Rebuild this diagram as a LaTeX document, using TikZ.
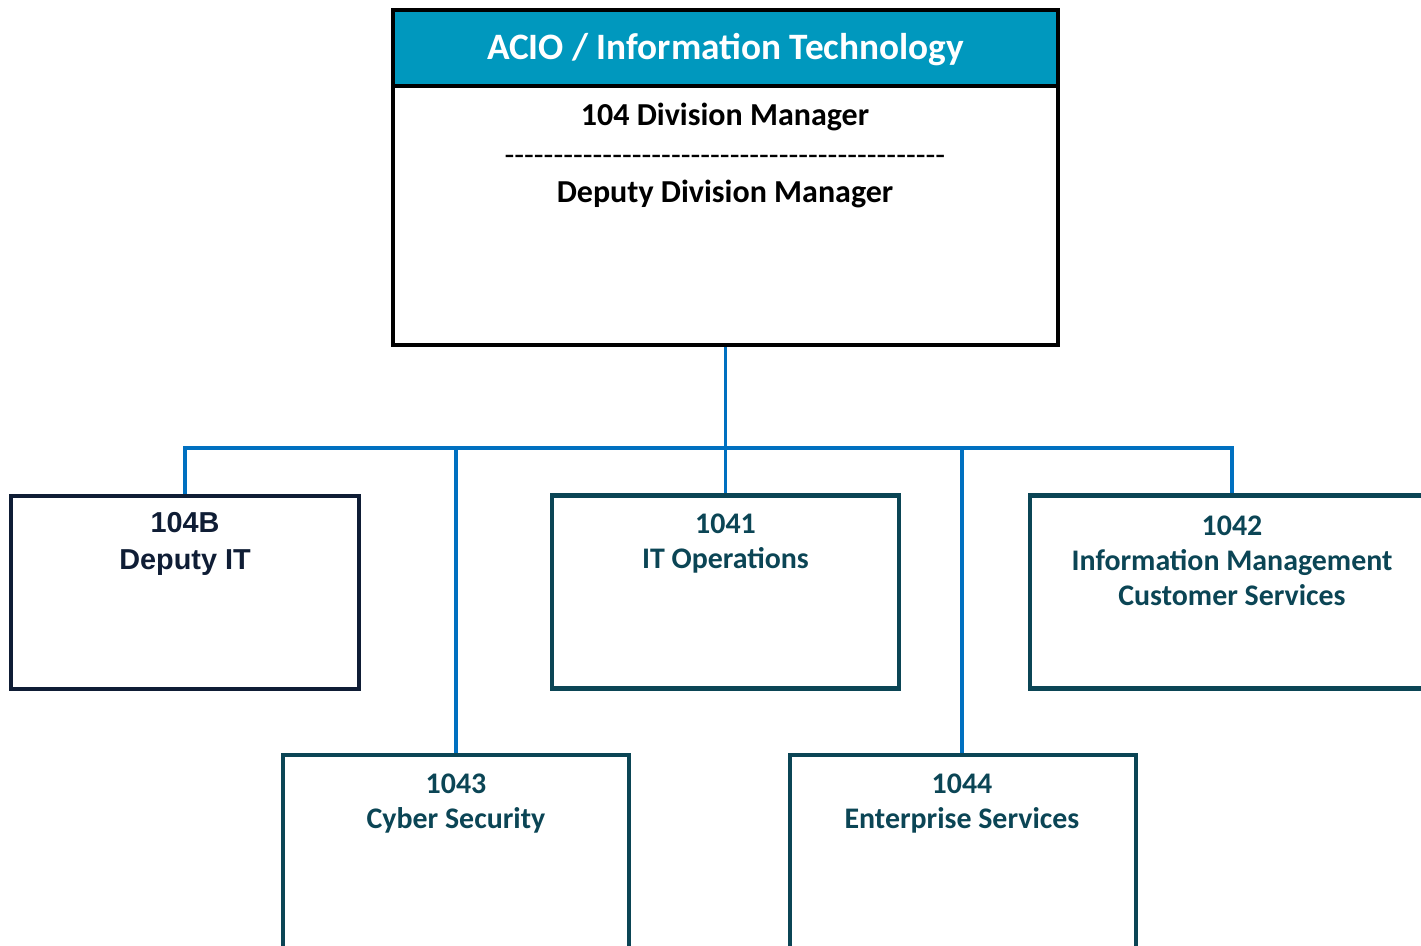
\documentclass[tikz,border=0pt]{standalone}
\usepackage{fontspec}
\setmainfont{Carlito}
\newfontfamily\arialfont{Liberation Sans}
\definecolor{headblue}{HTML}{0098BE}
\definecolor{linkblue}{HTML}{0070C0}
\definecolor{unitteal}{HTML}{0B4555}
\definecolor{deputynavy}{HTML}{0F1D35}

\begin{document}
\begin{tikzpicture}[x=0.01cm,y=-0.01cm,
    topbox/.style={rectangle,draw=black,line width=1.2pt,inner sep=0pt,minimum width=6.65cm},
    unitbox/.style={rectangle,draw=unitteal,line width=1.35pt,inner sep=0pt,minimum height=1.93cm},
    unittext/.style={align=center,text=unitteal,font=\bfseries\fontsize{8.5}{9.95}\selectfont},
    link/.style={draw=linkblue,line width=0.9pt}]
            \useasboundingbox (0,0) rectangle (1421,946);
            \clip (0,0) rectangle (1421,946);

            % top box
            \node[topbox,minimum height=2.59cm] (body) at (725.5, 215.5) {};
            \node[topbox,minimum height=0.76cm,fill=headblue] (head) at (725.5, 48) {};
            \node[text=white,font=\bfseries\fontsize{10.6}{12.6}\selectfont] (title) at (725.5, 50) {ACIO / Information Technology};
            \node[font=\bfseries\fontsize{9.1}{11}\selectfont] (mgr) at (725, 117) {104 Division Manager};
            \node[font=\fontsize{9.1}{11}\selectfont] (sep) at (725, 160) {\foreach \i in {1,...,45}{-}};
            \node[font=\bfseries\fontsize{9.1}{11}\selectfont] (dep) at (725, 194) {Deputy Division Manager};

            % units
            \node[unitbox,draw=deputynavy,minimum width=3.48cm] (b104B) at (185, 592.5) {};
            \node[unitbox,minimum width=3.47cm] (b1041) at (725.5, 592) {};
            \node[unitbox,minimum width=4.04cm] (b1042) at (1232, 592) {};
            \node[unitbox,minimum width=3.46cm] (b1043) at (456, 851.5) {};
            \node[unitbox,minimum width=3.46cm] (b1044) at (963, 851.5) {};

            \node[align=center,text=deputynavy,font=\arialfont\bfseries\fontsize{8.2}{10.4}\selectfont] (t104B) at (185, 544) {104B\\Deputy IT};
            \node[unittext] (t1041) at (725.5, 544) {1041\\IT Operations};
            \node[unittext] (t1042) at (1232, 561) {1042\\Information Management\\Customer Services};
            \node[unittext] (t1043) at (456, 804) {1043\\Cyber Security};
            \node[unittext] (t1044) at (962, 804) {1044\\Enterprise Services};

            % connectors
            \coordinate (bus) at (725, 448);
            \draw[link] (body.south) -- (body.south |- bus);
            \draw[link] (b104B.north) |- (bus) -| (b1042.north);
            \draw[link] (b1041.north) -- (b1041.north |- bus);
            \draw[link] (b1043.north) -- (b1043.north |- bus);
            \draw[link] (b1044.north -| 962, 0) -- (962, 448);

        \end{tikzpicture}
\end{document}
